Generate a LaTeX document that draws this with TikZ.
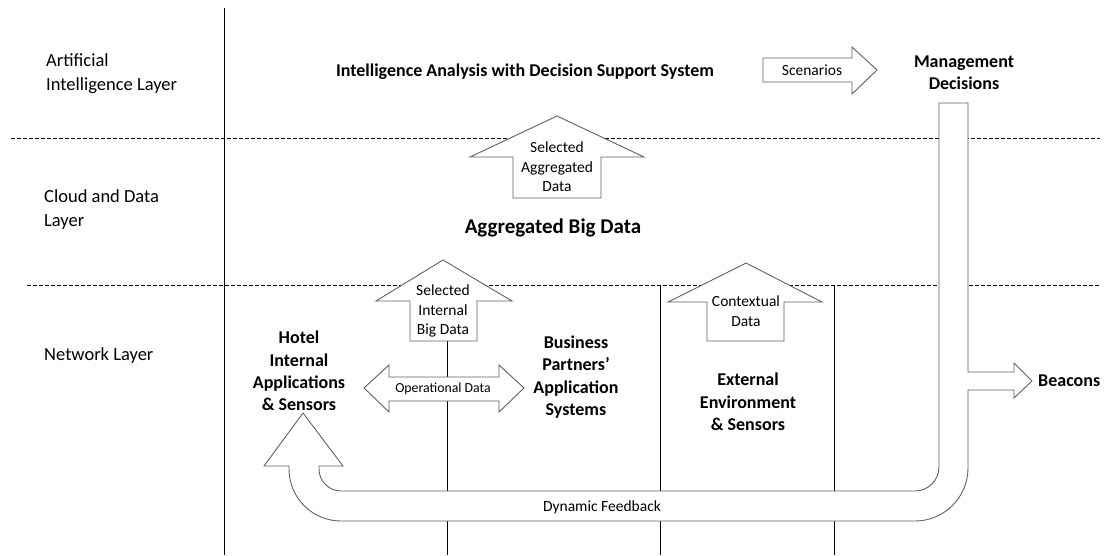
\documentclass[tikz,border=0pt]{standalone}
\usepackage{fontspec}
\setmainfont{Carlito}
\begin{document}
\begin{tikzpicture}[x=1pt,y=-1pt,
  blk/.style={draw=black!62, fill=white, line width=0.9pt, line join=miter},
  ln/.style={draw=black, line width=0.9pt},
  dsh/.style={draw=black, dash pattern=on 3.5pt off 2.5pt, line width=0.7pt},
  lay/.style={font=\fontsize{18.5}{24}\selectfont, align=left, anchor=west, inner sep=0},
  bt/.style={font=\bfseries\fontsize{18}{22.4}\selectfont, align=center, inner sep=0},
  sm/.style={font=\fontsize{15.5}{19.5}\selectfont, align=center, inner sep=0}]
\useasboundingbox (0,0) rectangle (1104,555);
\fill[white] (0,0) rectangle (1104,555);
% layer separators
\draw[ln] (224,8) -- (224,555);
\draw[dsh] (11,138) -- (1100,138);
\draw[dsh] (27,285) -- (1100,285);
% vertical column lines
\coordinate (c1t) at (447,341); \coordinate (c1b) at (447,555);
\coordinate (c2t) at (660,285); \coordinate (c2b) at (660,555);
\coordinate (c3t) at (834,285); \coordinate (c3b) at (834,555);
\draw[ln] (c1t) -- (c1b);
\draw[ln] (c2t) -- (c2b);
\draw[ln] (c3t) -- (c3b);
% block arrows
\draw[blk] (763,58) -- (852,58) -- (852,47) -- (877,70) -- (852,94) -- (852,82) -- (763,82) -- cycle;
\draw[blk] (557,116) -- (644,157) -- (601,157) -- (601,198) -- (513,198) -- (513,157) -- (470,157) -- cycle;
\draw[blk] (443,260) -- (512,301) -- (477,301) -- (477,341) -- (410,341) -- (410,301) -- (376,301) -- cycle;
\draw[blk] (746,263) -- (822,302) -- (784,302) -- (784,341) -- (707,341) -- (707,302) -- (668,302) -- cycle;
\draw[blk] (364,388) -- (389,365) -- (389,377) -- (499,377) -- (499,365) -- (524,388) -- (499,412) -- (499,401) -- (389,401) -- (389,412) -- cycle;
% management / feedback band
\draw[blk] (939,103) -- (939,467) arc[start angle=0,end angle=90,radius=24]
  -- (341,491) arc[start angle=90,end angle=180,radius=22]
  -- (319,466) -- (343,466) -- (303,413) -- (264,466) -- (289,466) -- (289,469)
  arc[start angle=180,end angle=90,radius=52]
  -- (915,521) arc[start angle=90,end angle=0,radius=53]
  -- (968,390) -- (1014,390) -- (1014,398) -- (1032,381) -- (1014,363) -- (1014,372) -- (968,372)
  -- (968,103) -- cycle;
% layer labels
\node[lay] (lai) at (46,74) {Artificial\\Intelligence Layer};
\node[lay] (lcd) at (44,210) {Cloud and Data\\Layer};
\node[lay] (lnw) at (44,356) {Network Layer};
% texts
\node[bt] (ia) at (525,72) {Intelligence Analysis with Decision Support System};
\node[sm] (sc) at (812,70) {Scenarios};
\node[bt] (md) at (964,73) {Management\\Decisions};
\node[sm] (sad) at (557,167) {Selected\\Aggregated\\Data};
\node[font=\bfseries\fontsize{21}{24}\selectfont, inner sep=0] (abd) at (553,228) {Aggregated Big Data};
\node[sm] (sib) at (443,311) {Selected\\Internal\\Big Data};
\node[sm] (cd) at (746,311) {Contextual\\Data};
\node[sm, font=\fontsize{13.8}{18}\selectfont] (od) at (443,389) {Operational Data};
\node[bt] (hotel) at (299,371) {Hotel\\Internal\\Applications\\\& Sensors};
\node[bt] (bp) at (576,377) {Business\\Partners'\\Application\\Systems};
\node[bt] (ext) at (748,402) {External\\Environment\\\& Sensors};
\node[bt, anchor=west] (bc) at (1038,381) {Beacons};
\node[sm] (df) at (602,507) {Dynamic Feedback};
\end{tikzpicture}
\end{document}
